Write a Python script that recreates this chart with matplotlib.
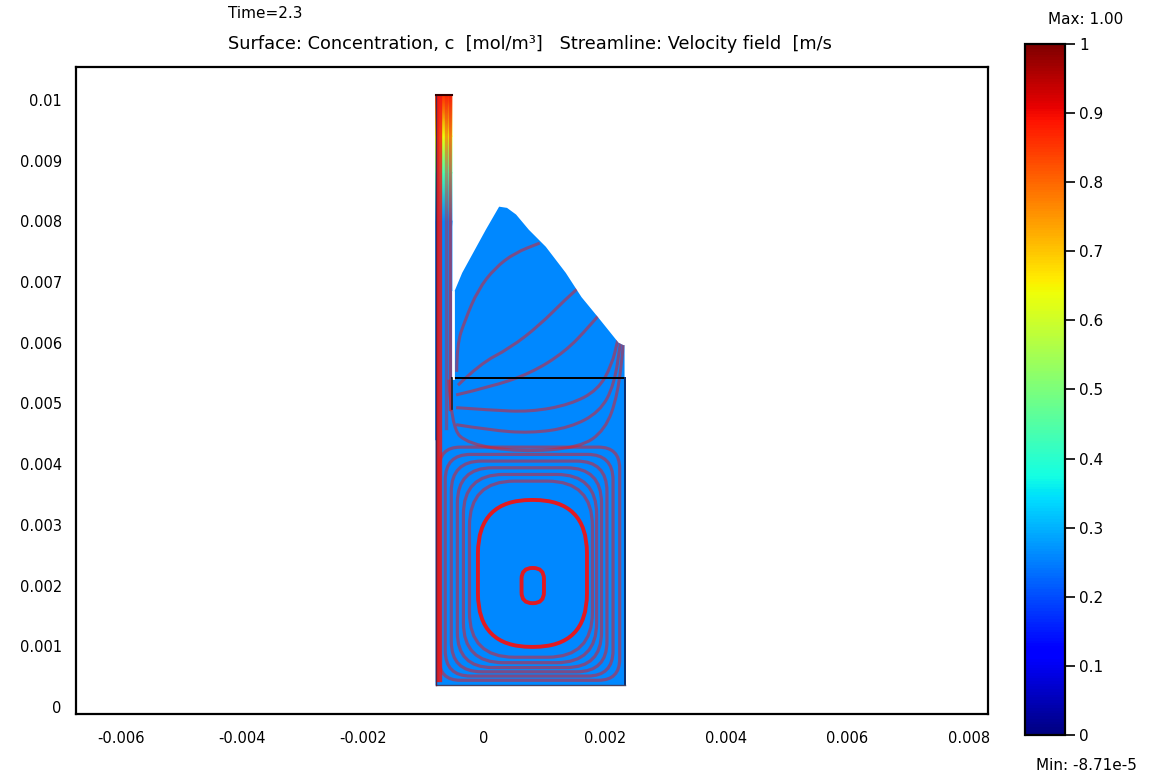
import numpy as np
import matplotlib.pyplot as plt
import matplotlib.patches as patches
from matplotlib.path import Path
from matplotlib.cm import ScalarMappable
from matplotlib.colors import Normalize

plt.rcParams["font.family"] = ["DejaVu Sans"]

# lengths are in mm (1e-3 m); tick labels are shown in m like the original
time_label = "Time=2.3"
title_label = "Surface: Concentration, c  [mol/m³]   Streamline: Velocity field  [m/s"
c_bulk = 0.26
c_min = -8.71e-5
c_max = 1.00

x_ticks = [-6, -4, -2, 0, 2, 4, 6, 8]
x_tick_labels = ["-0.006", "-0.004", "-0.002", "0", "0.002", "0.004", "0.006", "0.008"]
y_ticks = [0, 1, 2, 3, 4, 5, 6, 7, 8, 9, 10]
y_tick_labels = ["0", "0.001", "0.002", "0.003", "0.004", "0.005", "0.006",
                 "0.007", "0.008", "0.009", "0.01"]
cbar_ticks = [0, 0.1, 0.2, 0.3, 0.4, 0.5, 0.6, 0.7, 0.8, 0.9, 1]
cbar_tick_labels = ["0", "0.1", "0.2", "0.3", "0.4", "0.5", "0.6", "0.7", "0.8", "0.9", "1"]

# geometry: filling tube + cavity + free surface of the melt
tube_x = [-0.80, -0.53]
tube_top = 10.08
cavity_x = [-0.80, 2.32]
cavity_y = [0.36, 5.42]
surface_x = [-0.49, -0.36, 0.03, 0.25, 0.38, 0.53, 0.74, 1.02, 1.35, 1.61, 1.89, 2.22, 2.30]
surface_y = [6.84, 7.15, 7.86, 8.24, 8.22, 8.11, 7.86, 7.58, 7.15, 6.75, 6.41, 6.00, 5.96]
tube_wall_low = 4.9

# concentration along the tube axis
tube_prof_y = [4.4, 8.0, 8.8, 9.4, 10.08]
tube_prof_c = [0.26, 0.26, 0.44, 0.64, 0.86]

# closed streamlines of the vortex in the cavity (outer -> inner)
loop_left = [-0.74, -0.64, -0.54, -0.44, -0.34, -0.24, -0.10, 0.62]
loop_right = [2.24, 2.13, 2.03, 1.94, 1.86, 1.79, 1.70, 0.99]
loop_bottom = [0.44, 0.51, 0.58, 0.65, 0.73, 0.82, 0.99, 1.71]
loop_top = [4.28, 4.16, 4.05, 3.94, 3.83, 3.72, 3.41, 2.29]
loop_corner = [0.35, 0.42, 0.50, 0.58, 0.66, 0.74, 0.88, 0.18]

# open streamlines from the tube outlet up to the free surface
line_a = ([-0.45, -0.45, -0.31, -0.10, 0.18, 0.51, 0.92],
          [5.52, 5.96, 6.38, 6.87, 7.23, 7.48, 7.64])
line_b = ([-0.43, -0.07, 0.43, 0.92, 1.34, 1.67],
          [5.30, 5.65, 5.91, 6.29, 6.71, 7.00])
line_c = ([-0.46, 0.10, 0.76, 1.34, 1.75, 2.11],
          [5.14, 5.27, 5.49, 5.85, 6.28, 6.71])
line_d = ([-0.46, 0.10, 0.76, 1.42, 1.88, 2.11, 2.21],
          [4.93, 4.89, 4.86, 4.98, 5.22, 5.63, 6.05])
line_e = ([-0.46, 0.10, 0.76, 1.42, 1.91, 2.15, 2.26],
          [4.65, 4.56, 4.51, 4.60, 4.86, 5.30, 6.05])
line_f = ([-0.58, -0.54, -0.26, 0.59, 1.58, 2.00, 2.21, 2.31],
          [5.39, 4.60, 4.33, 4.20, 4.27, 4.56, 5.14, 6.05])
open_lines = [line_a, line_b, line_c, line_d, line_e, line_f]

# straight streamlines inside the tube
tube_line_x = [-0.77, -0.72, -0.63, -0.565]
tube_line_bottom = [0.45, 0.45, 4.6, 4.9]

cmap = plt.get_cmap("jet")
norm = Normalize(vmin=c_min, vmax=c_max)
RED = "#f01414"


def smooth_path(xs, ys):
    """quadratic bezier through the midpoints of a digitised polyline"""
    verts = [(xs[0], ys[0])]
    codes = [Path.MOVETO]
    for i in range(1, len(xs) - 1):
        verts += [(xs[i], ys[i]), ((xs[i] + xs[i + 1]) / 2, (ys[i] + ys[i + 1]) / 2)]
        codes += [Path.CURVE3, Path.CURVE3]
    verts.append((xs[-1], ys[-1]))
    codes.append(Path.LINETO)
    return Path(verts, codes)


fig = plt.figure(figsize=(11.51, 7.80), dpi=100)
ax = fig.add_axes([75.7 / 1151, 66 / 780, 912.3 / 1151, 647 / 780])
ax.set_xlim(-6.74, 8.32)
ax.set_ylim(-0.115, 10.54)

# domain surface colour
dom_x = [cavity_x[0], cavity_x[1], cavity_x[1]] + surface_x[::-1] + [tube_x[1], tube_x[1], tube_x[0]]
dom_y = [cavity_y[0], cavity_y[0], surface_y[-1]] + surface_y[::-1] + [surface_y[0], tube_top, tube_top]
domain = patches.Polygon(np.column_stack([dom_x, dom_y]), closed=True,
                         facecolor=cmap(norm(c_bulk)), edgecolor="none", zorder=1)
ax.add_patch(domain)

# concentration gradient in the tube
TX, TY = np.meshgrid(tube_x, tube_prof_y)
TC = np.column_stack([tube_prof_c, tube_prof_c])
ax.pcolormesh(TX, TY, TC, cmap=cmap, norm=norm, shading="gouraud", zorder=2)

# streamlines
for i in range(len(loop_left)):
    w = loop_right[i] - loop_left[i]
    h = loop_top[i] - loop_bottom[i]
    bright = i >= len(loop_left) - 2
    box = patches.FancyBboxPatch((loop_left[i], loop_bottom[i]), w, h,
                                 boxstyle=f"round,pad=0,rounding_size={loop_corner[i]}",
                                 facecolor="none", edgecolor=RED,
                                 lw=2.8 if bright else 2.3,
                                 alpha=0.95 if bright else 0.5, zorder=3)
    ax.add_patch(box)
    box.set_clip_path(domain)

for xs, ys in open_lines:
    pp = patches.PathPatch(smooth_path(xs, ys), facecolor="none", edgecolor=RED,
                           lw=2.2, alpha=0.5, zorder=3)
    ax.add_patch(pp)
    pp.set_clip_path(domain)

tube_alpha = [0.9, 0.8, 0.4, 0.55]
for tx, tb, ta in zip(tube_line_x, tube_line_bottom, tube_alpha):
    ln, = ax.plot([tx, tx], [tb, tube_top], color=RED, lw=2.4, alpha=ta, zorder=3)
    ln.set_clip_path(domain)

# subdomain borders
ax.plot([tube_x[1], cavity_x[1]], [cavity_y[1], cavity_y[1]], color="black", lw=1.4, zorder=4)
ax.plot([cavity_x[1], cavity_x[1]], [cavity_y[0], cavity_y[1]], color="#0a2a6a", lw=1.4, zorder=4)
ax.plot(cavity_x, [cavity_y[0], cavity_y[0]], color="#444466", lw=1.0, zorder=4)
ax.plot([cavity_x[0], cavity_x[0]], [cavity_y[0], tube_top], color="#552244", lw=1.0, zorder=4)
ax.plot(tube_x, [tube_top, tube_top], color="#330000", lw=1.5, zorder=4)
ax.plot([tube_x[1] + 0.02] * 2, [cavity_y[1], surface_y[0]], color="white", lw=2.0, zorder=4)
ax.plot([tube_x[1]] * 2, [tube_wall_low, cavity_y[1]], color="#222222", lw=1.2, zorder=4)

ax.set_xticks(x_ticks)
ax.set_xticklabels(x_tick_labels)
ax.set_yticks(y_ticks)
ax.set_yticklabels(y_tick_labels)
ax.tick_params(axis="both", length=0, labelsize=10.5)
ax.tick_params(axis="x", pad=12)
ax.tick_params(axis="y", pad=10)
for sp in ax.spines.values():
    sp.set_linewidth(1.6)
    sp.set_color("black")

fig.text(228 / 1151, 1 - 14 / 780, time_label, ha="left", va="center", fontsize=11)
fig.text(228 / 1151, 1 - 44 / 780, title_label, ha="left", va="center", fontsize=12.8)

# colour bar
cax = fig.add_axes([1025 / 1151, 45 / 780, 40 / 1151, 691 / 780])
cb = fig.colorbar(ScalarMappable(norm=norm, cmap=cmap), cax=cax)
cb.set_ticks(cbar_ticks)
cb.set_ticklabels(cbar_tick_labels)
cb.outline.set_linewidth(1.6)
cax.tick_params(axis="y", direction="out", length=7, width=1.2, labelsize=11, pad=3)
left = cax.secondary_yaxis("left")
left.set_yticks(cbar_ticks)
left.tick_params(direction="in", length=6, width=1.2, labelleft=False)
fig.text(1086 / 1151, 1 - 20 / 780, f"Max: {c_max:.2f}", ha="center", va="center", fontsize=11)
fig.text(1086 / 1151, 1 - 766 / 780, f"Min: {c_min:.2e}".replace("e-05", "e-5"),
         ha="center", va="center", fontsize=11)

fig.savefig("out.png", dpi=100, facecolor="white")
